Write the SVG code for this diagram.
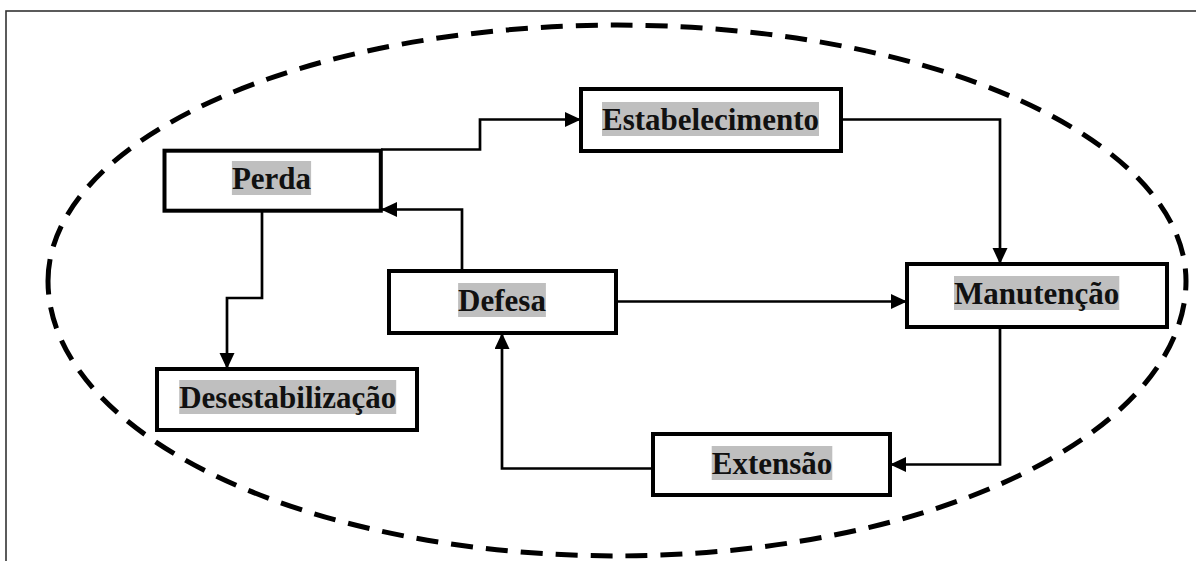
<svg xmlns="http://www.w3.org/2000/svg" width="1196" height="561" viewBox="0 0 1196 561">
  <style>
    .box { fill: #fff; stroke: #000; stroke-width: 4; }
    .hl { fill: #bfbfbf; }
    .lbl { font-family: "Liberation Serif", "Times New Roman", serif; font-weight: bold; font-size: 31px; fill: #111; text-anchor: middle; }
    .conn { fill: none; stroke: #000; stroke-width: 2.7; marker-end: url(#arr); }
  </style>
  <defs>
    <marker id="arr" markerUnits="userSpaceOnUse" markerWidth="18" markerHeight="16" refX="16" refY="7.5" orient="auto">
      <path d="M0,0 L16,7.5 L0,15 Z" fill="#000"/>
    </marker>
  </defs>
  <rect x="0" y="0" width="1196" height="561" fill="#fff"/>
  <rect id="frame" x="6" y="11" width="1220" height="600" fill="none" stroke="#333" stroke-width="1.6"/>
  <path id="ellipse" d="M48,281 A569,256 0 0 1 1186,281 A569,275 0 0 1 48,281 Z" fill="none" stroke="#000" stroke-width="5" stroke-dasharray="22,13"/>

  <g id="connectors">
    <path class="conn" d="M381,149.5 H480 V119.5 H581"/>
    <path class="conn" d="M841,119.5 H1000 V264"/>
    <path class="conn" d="M462,271 V209.5 H381"/>
    <path class="conn" d="M262,211 V298 H227 V369"/>
    <path class="conn" d="M616,301.5 H907"/>
    <path class="conn" d="M1000,327 V464.5 H890"/>
    <path class="conn" d="M653,468.5 H502 V333"/>
  </g>

  <g id="perda">
    <rect class="box" x="164.5" y="150.7" width="216.3" height="60"/>
    <rect class="hl" x="231.9" y="161" width="79.2" height="34"/>
    <text class="lbl" x="271.5" y="189">Perda</text>
  </g>
  <g id="estabelecimento">
    <rect class="box" x="581" y="89" width="260" height="62"/>
    <rect class="hl" x="602" y="102" width="217" height="34"/>
    <text class="lbl" x="710.5" y="130">Estabelecimento</text>
  </g>
  <g id="manutencao">
    <rect class="box" x="907" y="264" width="260" height="63"/>
    <rect class="hl" x="954" y="276" width="165.3" height="34"/>
    <text class="lbl" x="1036.7" y="304">Manutenção</text>
  </g>
  <g id="defesa">
    <rect class="box" x="389" y="271" width="227" height="62"/>
    <rect class="hl" x="458.1" y="283" width="87.8" height="34"/>
    <text class="lbl" x="502" y="311">Defesa</text>
  </g>
  <g id="desestabilizacao">
    <rect class="box" x="157" y="369" width="260" height="61"/>
    <rect class="hl" x="179.2" y="380" width="217" height="34"/>
    <text class="lbl" x="287.7" y="408">Desestabilização</text>
  </g>
  <g id="extensao">
    <rect class="box" x="653" y="434" width="237" height="61"/>
    <rect class="hl" x="711.7" y="446" width="120.6" height="34"/>
    <text class="lbl" x="772" y="474">Extensão</text>
  </g>
</svg>
